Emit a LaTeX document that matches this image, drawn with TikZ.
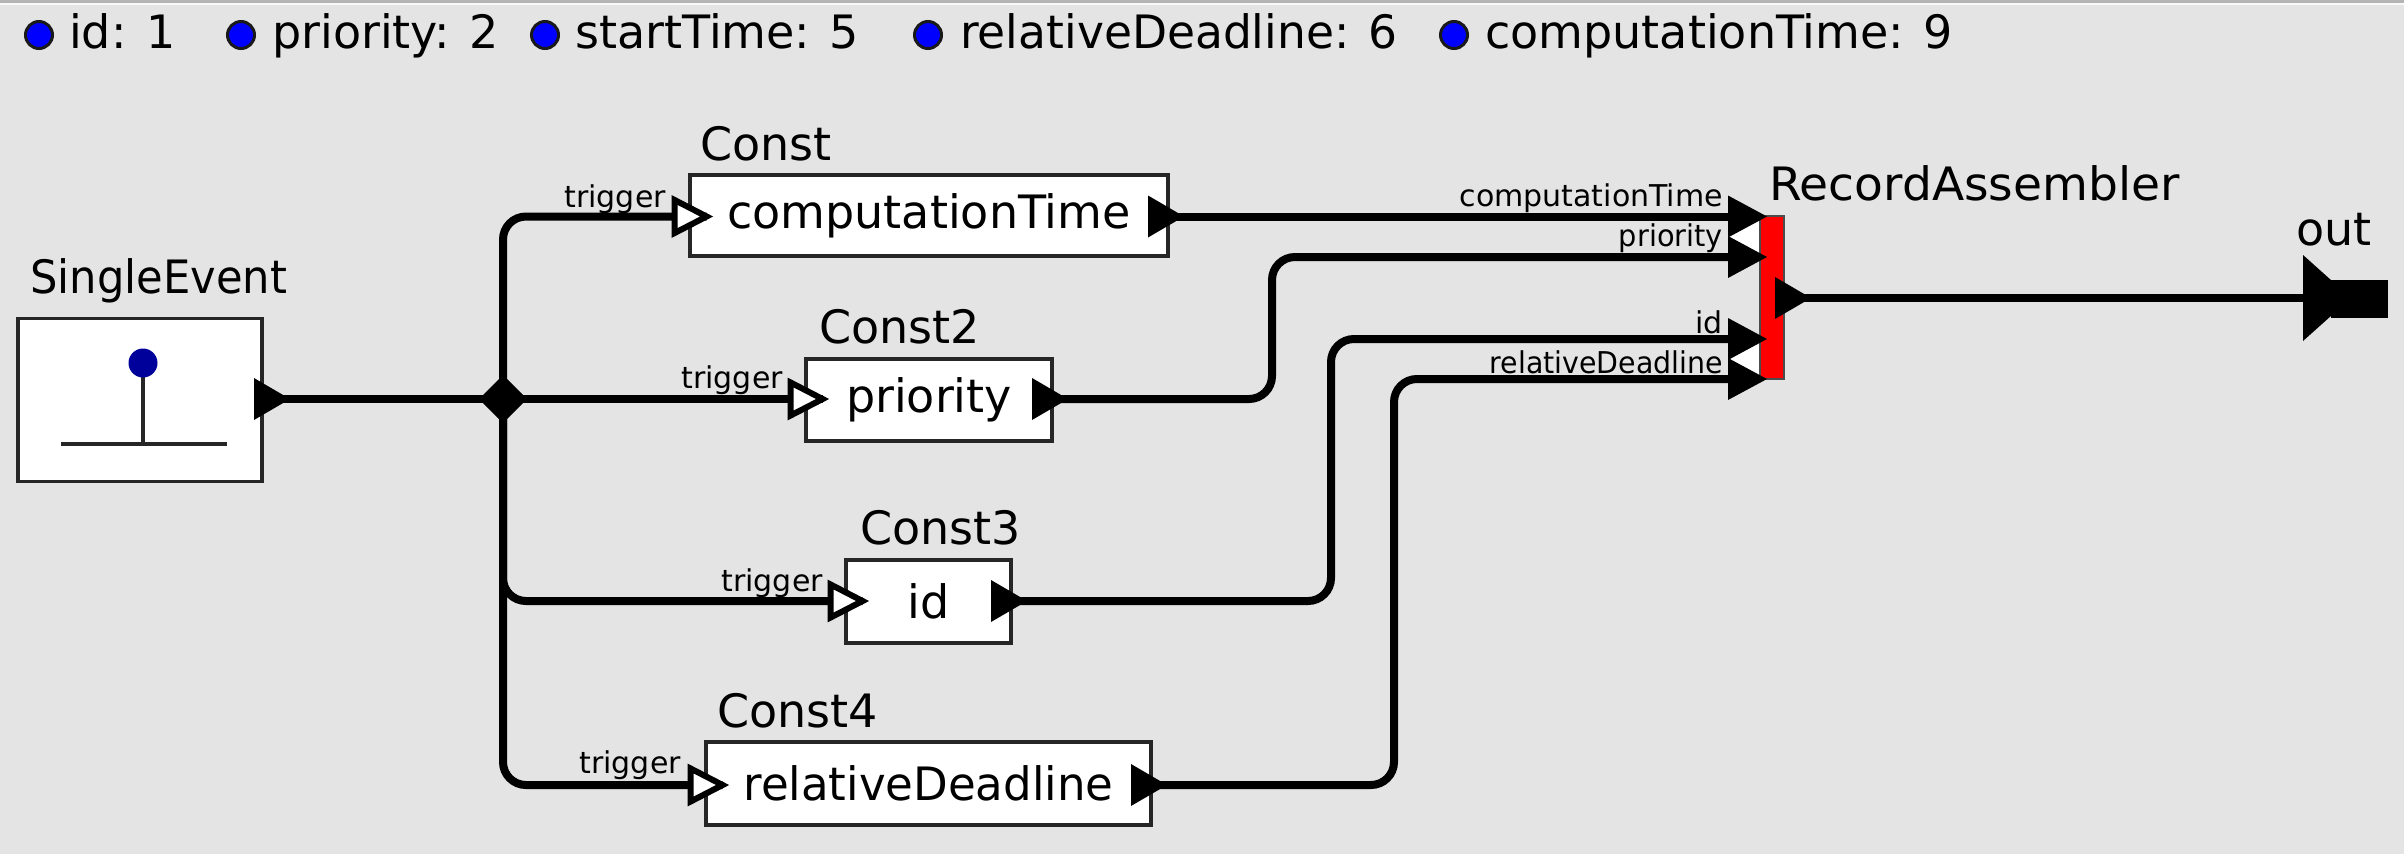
\documentclass[tikz,border=0pt]{standalone}
\usepackage{graphicx}
\usepackage{fontspec}
\setmainfont{DejaVu Sans}
\usetikzlibrary{calc}
\definecolor{bgc}{HTML}{E4E4E4}
\definecolor{stripc}{HTML}{B4B4B4}
\definecolor{ledblue}{HTML}{0000FF}
\definecolor{icondot}{HTML}{00009B}
\newcommand{\bigfont}{\fontsize{46}{50}\selectfont}
\newcommand{\smallfont}{\fontsize{30}{34}\selectfont}
\newcommand{\narrow}[2]{\scalebox{#1}[1]{#2}}
\newcommand{\outtri}[1]{\fill[black] (#1) -- ++(-36,-21) -- ++(0,42) -- cycle;}
\newcommand{\intri}[1]{\draw[inopen] (#1) -- ++(-32,-16.5) -- ++(0,33) -- cycle;}
\newcommand{\ratri}[1]{\fill[black] (#1) -- ++(-39,-21) -- ++(0,42) -- cycle;}
\tikzset{
  x=1pt,y=-1pt,
  wire/.style={line width=8pt,rounded corners=23pt,black},
  boxnode/.style={draw=black!85,line width=3.5pt,fill=white,inner sep=0pt,font=\bigfont},
  title/.style={anchor=base west,inner sep=0pt,font=\bigfont,text=black},
  portlabel/.style={anchor=base east,inner sep=0pt,font=\smallfont,text=black},
  led/.style={circle,draw=black!90,line width=3pt,fill=ledblue,minimum size=27pt,inner sep=0pt},
  inopen/.style={draw=black,line width=6pt,fill=white,miter limit=10},
}
\begin{document}
\begin{tikzpicture}
\useasboundingbox (0,0) rectangle (2404,854);
\fill[bgc] (0,0) rectangle (2404,854);
\fill[stripc] (0,0) rectangle (2404,3);
\fill[white!75!bgc] (0,3) rectangle (2404,4.5);

% legend
\node[led] (l1) at (39,35) {};
\node[title] (lt1) at (69,48) {id: 1};
\node[led] (l2) at (241,35) {};
\node[title] (lt2) at (272,48) {priority: 2};
\node[led] (l3) at (545,35) {};
\node[title] (lt3) at (575,48) {startTime: 5};
\node[led] (l4) at (928,35) {};
\node[title] (lt4) at (960,48) {\narrow{0.99}{relativeDeadline: 6}};
\node[led] (l5) at (1454,35) {};
\node[title] (lt5) at (1485,48) {computationTime: 9};

% coordinates
\coordinate (seout) at (290,399);
\coordinate (c1in) at (706.6,216.5);
\coordinate (c2in) at (822.6,399);
\coordinate (c3in) at (862.6,601);
\coordinate (c4in) at (722.6,785);
\coordinate (c1out) at (1184,216.5);
\coordinate (c2out) at (1068,399);
\coordinate (c3out) at (1027,601);
\coordinate (c4out) at (1167,785);
\coordinate (ra1) at (1767,216.5);
\coordinate (ra2) at (1767,257);
\coordinate (ra3) at (1767,339);
\coordinate (ra4) at (1767,379);
\coordinate (raout) at (1811,298);
\coordinate (b2) at (1272,330);
\coordinate (b3) at (1331,470);
\coordinate (b4) at (1394,580);
\coordinate (outin) at (2303,298);
% wire ends, inside the solid port triangles
\coordinate (seoutw) at ($(seout)+(-20,0)$);
\coordinate (c1outw) at ($(c1out)+(-20,0)$);
\coordinate (c2outw) at ($(c2out)+(-20,0)$);
\coordinate (c3outw) at ($(c3out)+(-20,0)$);
\coordinate (c4outw) at ($(c4out)+(-20,0)$);
\coordinate (raoutw) at ($(raout)+(-20,0)$);
\coordinate (ra1w) at ($(ra1)+(-20,0)$);
\coordinate (ra2w) at ($(ra2)+(-20,0)$);
\coordinate (ra3w) at ($(ra3)+(-20,0)$);
\coordinate (ra4w) at ($(ra4)+(-20,0)$);

% boxes
\node[boxnode,minimum width=244pt,minimum height=163pt] (se) at (140,400) {};
\node[boxnode,minimum width=478pt,minimum height=81pt] (c1) at (929,215.5) {computationTime};
\node[boxnode,minimum width=246pt,minimum height=82pt] (c2) at (929,400) {priority};
\node[boxnode,minimum width=165pt,minimum height=83pt] (c3) at (928.5,601.5) {id};
\node[boxnode,minimum width=445pt,minimum height=83pt] (c4) at (928.5,783.5) {\narrow{0.98}{relativeDeadline}};

% SingleEvent icon
\draw[line width=3.5pt,black!85] (143,363) -- (143,444);
\draw[line width=4pt,black!85] (61,444) -- (227,444);
\fill[icondot] (143,363) circle[radius=14.5pt];

% titles
\node[title] (t0) at (30,293) {\narrow{0.94}{SingleEvent}};
\node[title] (t1) at (700,160) {Const};
\node[title] (t2) at (819,343) {Const2};
\node[title] (t3) at (860,544) {Const3};
\node[title] (t4) at (717,727) {Const4};
\node[title] (t5) at (1769,200) {\narrow{1.025}{RecordAssembler}};
\node[title] (t6) at (2296,245) {out};

% junction
\coordinate (jn) at (503,399);
\draw[wire] (jn) |- (c1in);
\draw[wire] (jn) -- (c2in);
\draw[wire] (jn) |- (c3in);
\draw[wire] (jn) |- (c4in);
\draw[wire] (seoutw) -- (jn);
\fill[black] (479,399) -- (503,375) -- (527,399) -- (503,423) -- cycle;

% wires to assembler
\draw[wire] (c1outw) -- (ra1w);
\draw[wire] (c2outw) -| (b2) |- (ra2w);
\draw[wire] (c3outw) -| (b3) |- (ra3w);
\draw[wire] (c4outw) -| (b4) |- (ra4w);
\draw[wire] (raoutw) -- (outin);

% RecordAssembler
\fill[white] (1728,237) -- (1767,217) -- (1767,257) -- cycle;
\fill[white] (1728,359) -- (1767,339) -- (1767,379) -- cycle;
\node[draw=black!70,line width=2pt,fill=red,minimum width=24pt,minimum height=163pt,inner sep=0pt] (ra) at (1771.5,297.5) {};
\ratri{ra1}\ratri{ra2}\ratri{ra3}\ratri{ra4}

% ports
\outtri{seout}\outtri{c1out}\outtri{c2out}\outtri{c3out}\outtri{c4out}\outtri{raout}
\intri{c1in}\intri{c2in}\intri{c3in}\intri{c4in}

% out port
\fill[black] (outin) ++(0,-43) -- ++(48,43) -- ++(-48,43) -- cycle;
\node[fill=black,minimum width=57pt,minimum height=38pt,inner sep=0pt] (outp) at (2359.5,299) {};

% port labels
\node[portlabel] (p1) at (666,207) {trigger};
\node[portlabel] (p2) at (783,388) {trigger};
\node[portlabel] (p3) at (823,591) {trigger};
\node[portlabel] (p4) at (681,773) {trigger};
\node[portlabel] (r1) at (1723,206) {computationTime};
\node[portlabel] (r2) at (1723,246) {\narrow{0.96}{priority}};
\node[portlabel] (r3) at (1723,333) {id};
\node[portlabel] (r4) at (1723,373) {\narrow{0.947}{relativeDeadline}};
\end{tikzpicture}
\end{document}
